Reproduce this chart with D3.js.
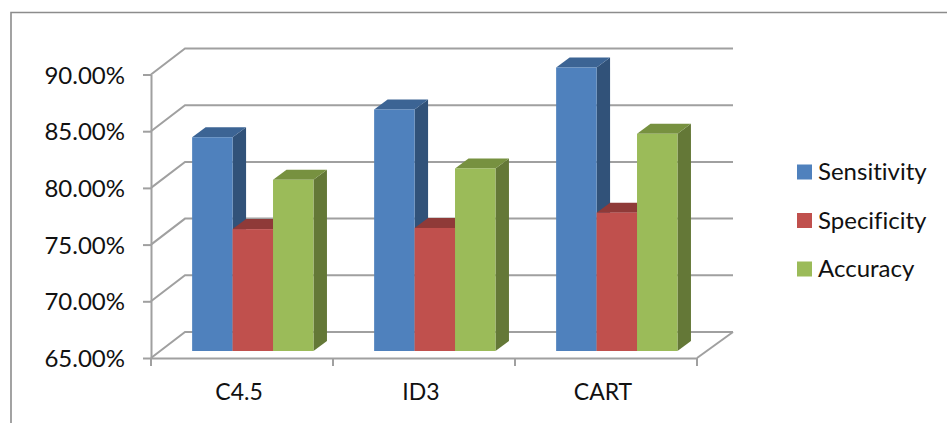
<!DOCTYPE html>
<html>
<head>
<meta charset="utf-8">
<script src="https://cdn.jsdelivr.net/npm/d3@7"></script>
<style>
  html, body { margin: 0; padding: 0; background: #fff; }
  svg { display: block; }
  text { font-family: Lato, "Noto Sans", sans-serif; fill: #111; font-variant-ligatures: none; }
</style>
</head>
<body>
<svg id="chart" width="947" height="423"></svg>
<script>
// Classifier comparison, values in percent
const categories = ["C4.5", "ID3", "CART"];
const seriesNames = ["Sensitivity", "Specificity", "Accuracy"];
const sensitivity = [83.85, 86.3, 90.0];
const specificity = [75.75, 75.85, 77.2];
const accuracy = [80.1, 81.1, 84.15];
const tickValues = [65, 70, 75, 80, 85, 90];

const seriesValues = [sensitivity, specificity, accuracy];
const frontColors = ["#4F81BD", "#C0504D", "#9BBB59"];
const topColors = ["#3C6494", "#8F3A38", "#779140"];
const sideColors = ["#315279", "#7F3331", "#647837"];

const gridColor = "#a0a0a0";
const frameColor = "#8c8c8c";

// Oblique projection: the floor recedes up and to the right
const wallDx = 34, wallDy = -26;
const barPlaneDx = 10.8, barPlaneDy = -7;
const barDepthDx = 13.5, barDepthDy = -10;

const svg = d3.select("#chart");

const x = d3.scaleBand().domain(categories).range([151, 697]);
const inner = d3.scaleBand().domain(seriesNames)
  .range([0, x.bandwidth()]).paddingOuter(0.75).paddingInner(0);
const y = d3.scaleLinear().domain([65, 90]).range([358, 74.5]);

// Outer frame: only the top and left edges show
svg.append("path")
  .attr("d", "M11,423V12.5H947")
  .attr("fill", "none").attr("stroke", frameColor).attr("stroke-width", 1.6);

// Wall gridlines with their diagonal run back from the front axis
const right = x.range()[1];
const left = x.range()[0];
const walls = svg.append("g").attr("fill", "none")
  .attr("stroke", gridColor).attr("stroke-width", 2);
tickValues.forEach(v => {
  walls.append("path").attr("d", d3.line()([
    [left, y(v)],
    [left + wallDx, y(v) + wallDy],
    [right + wallDx + 2, y(v) + wallDy]
  ]));
});
// Floor edge on the right
walls.append("path").attr("d", d3.line()([
  [right, y(65)],
  [right + wallDx + 2, y(65) + wallDy]
]));

// Value axis
const yAxis = d3.axisLeft(y)
  .tickValues(tickValues)
  .tickFormat(d => d.toFixed(2) + "%")
  .tickSize(8).tickSizeOuter(0).tickPadding(18);
const yG = svg.append("g").attr("transform", `translate(${left},0)`).call(yAxis);
yG.selectAll("line").attr("stroke", gridColor).attr("stroke-width", 2);
yG.select(".domain").attr("stroke", gridColor).attr("stroke-width", 2);
yG.selectAll("text").attr("font-size", 24).attr("y", 1).style("font-family", null);

// Category axis: labels centred in each band, ticks on the band edges
const xAxis = d3.axisBottom(x).tickSize(0).tickSizeOuter(0).tickPadding(26);
const xG = svg.append("g").attr("transform", `translate(0,${y(65)})`).call(xAxis);
xG.select(".domain").attr("stroke", gridColor).attr("stroke-width", 2);
xG.selectAll("text").attr("font-size", 23).attr("dx", -3).style("font-family", null);
const edges = categories.map(c => x(c)).concat([right]);
xG.selectAll("line.edge").data(edges).join("line").attr("class", "edge")
  .attr("x1", d => d).attr("x2", d => d)
  .attr("y1", 0).attr("y2", 8)
  .attr("stroke", gridColor).attr("stroke-width", 2);

// 3D bars, painted left to right so each front hides its neighbour's side
const bars = svg.append("g");
const base = y(65) + barPlaneDy;
categories.forEach((c, ci) => {
  seriesNames.forEach((s, si) => {
    const v = seriesValues[si][ci];
    const x0 = x(c) + inner(s) + barPlaneDx;
    const x1 = x0 + inner.bandwidth();
    const yTop = y(v) + barPlaneDy;
    const g = bars.append("g").attr("class", "bar");
    g.append("path").attr("fill", sideColors[si]).attr("d", d3.line()([
      [x1, yTop], [x1 + barDepthDx, yTop + barDepthDy],
      [x1 + barDepthDx, base + barDepthDy], [x1, base]
    ]) + "Z");
    g.append("path").attr("fill", topColors[si]).attr("d", d3.line()([
      [x0, yTop], [x0 + barDepthDx, yTop + barDepthDy],
      [x1 + barDepthDx, yTop + barDepthDy], [x1, yTop]
    ]) + "Z");
    g.append("rect").attr("fill", frontColors[si])
      .attr("x", x0).attr("y", yTop)
      .attr("width", inner.bandwidth()).attr("height", base - yTop);
  });
});

// Legend
const legendY = d3.scalePoint().domain(seriesNames).range([172, 269]);
const legend = svg.append("g").selectAll("g").data(seriesNames).join("g")
  .attr("transform", d => `translate(797,${legendY(d)})`);
legend.append("rect")
  .attr("x", 0).attr("y", -7.5).attr("width", 15).attr("height", 15)
  .attr("fill", (d, i) => frontColors[i]);
legend.append("text")
  .attr("x", 21).attr("dy", "0.35em").attr("font-size", 24)
  .text(d => d);
</script>
</body>
</html>
